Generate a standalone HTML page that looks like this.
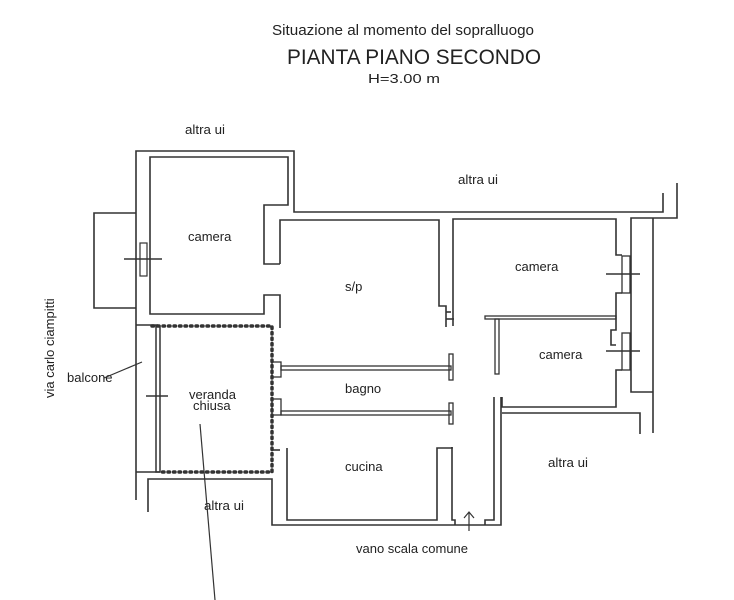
<!DOCTYPE html>
<html><head><meta charset="utf-8"><style>
html,body{margin:0;padding:0;background:#fff}
svg{display:block}
text{font-family:"Liberation Sans",sans-serif;fill:#222}
.w{fill:none;stroke:#333;stroke-width:1.6}
</style></head><body>
<svg width="734" height="600" viewBox="0 0 734 600" xmlns="http://www.w3.org/2000/svg">
<text x="272" y="35" font-size="15" textLength="262" lengthAdjust="spacingAndGlyphs">Situazione al momento del sopralluogo</text>
<text x="287" y="64" font-size="21" textLength="254" lengthAdjust="spacingAndGlyphs">PIANTA PIANO SECONDO</text>
<text x="368" y="83" font-size="13" textLength="72" lengthAdjust="spacingAndGlyphs">H=3.00 m</text>
<text x="185" y="134" font-size="13" textLength="40" lengthAdjust="spacingAndGlyphs">altra ui</text>
<text x="458" y="184" font-size="13" textLength="40" lengthAdjust="spacingAndGlyphs">altra ui</text>
<text x="548" y="467" font-size="13" textLength="40" lengthAdjust="spacingAndGlyphs">altra ui</text>
<text x="204" y="510" font-size="13" textLength="40" lengthAdjust="spacingAndGlyphs">altra ui</text>
<text x="188" y="241" font-size="13">camera</text>
<text x="345" y="291" font-size="13">s/p</text>
<text x="515" y="271" font-size="13">camera</text>
<text x="539" y="359" font-size="13">camera</text>
<text x="345" y="393" font-size="13">bagno</text>
<text x="345" y="471" font-size="13">cucina</text>
<text x="189" y="399" font-size="13">veranda</text>
<text x="193" y="410" font-size="13">chiusa</text>
<text x="67" y="382" font-size="13">balcone</text>
<text x="356" y="553" font-size="13">vano scala comune</text>
<text transform="translate(54,398) rotate(-90)" font-size="13">via carlo ciampitti</text>

<polyline class="w" points="136,325 136,151 294,151 294,212 663,212 663,193"/>
<polyline class="w" points="677,183 677,218 631,218 631,392 653,392"/>
<line class="w" x1="653" y1="218" x2="653" y2="433"/>
<polyline class="w" points="136,213 94,213 94,308 136,308"/>
<polyline class="w" points="280,264 264,264 264,205 288,205 288,157 150,157 150,314 264,314 264,295 280,295 280,328"/>
<rect x="140" y="243" width="7" height="33" fill="none" stroke="#333" stroke-width="1.2"/>
<line class="w" x1="124" y1="259" x2="162" y2="259"/>
<polyline class="w" points="136,325 136,500"/>
<line class="w" x1="136" y1="325" x2="158" y2="325"/>
<line class="w" x1="136" y1="472" x2="160" y2="472"/>
<rect x="156" y="326" width="4" height="146" fill="none" stroke="#333" stroke-width="1.5"/>
<line class="w" x1="146" y1="396" x2="168" y2="396"/>
<line x1="104" y1="378" x2="142" y2="362" stroke="#333" stroke-width="1.2"/>
<g fill="none" stroke="#333" stroke-width="3.5" stroke-dasharray="1.5 4" stroke-linecap="round">
<polyline points="152,326 272,326 272,472 160,472"/>
</g>
<line x1="200" y1="424" x2="215" y2="600" stroke="#333" stroke-width="1.2"/>
<polyline class="w" points="148,512 148,479 272,479 272,525 501,525 501,397"/>
<polyline class="w" points="287,448 287,520 437,520 437,448 452,448 452,447"/>
<polyline class="w" points="280,450 272,450"/>
<polyline class="w" points="280,264 280,220 439,220 439,306 446,306 446,327"/>
<polyline class="w" points="446,312 451,312"/>
<rect x="272" y="362" width="9" height="15" fill="none" stroke="#333" stroke-width="1.3"/>
<rect x="281" y="366" width="170" height="4" fill="none" stroke="#333" stroke-width="1.3"/>
<rect x="449" y="354" width="4" height="26" fill="none" stroke="#333" stroke-width="1.3"/>
<rect x="272" y="399" width="9" height="16" fill="none" stroke="#333" stroke-width="1.3"/>
<rect x="281" y="411" width="170" height="4" fill="none" stroke="#333" stroke-width="1.3"/>
<rect x="449" y="403" width="4" height="21" fill="none" stroke="#333" stroke-width="1.3"/>
<polyline class="w" points="452,447 452,520 455,520 455,525"/>
<polyline class="w" points="494,397 494,520 485,520 485,525"/>
<line x1="469" y1="531" x2="469" y2="513" stroke="#333" stroke-width="1.2"/>
<polyline points="464,518 469,512 474,518" fill="none" stroke="#333" stroke-width="1.2"/>
<polyline class="w" points="453,326 453,219 616,219 616,255 622,255"/>
<rect x="622" y="256" width="8" height="37" fill="none" stroke="#333" stroke-width="1.3"/>
<polyline class="w" points="622,293 616,293 616,330 611,330 611,345 616,345"/>
<polyline class="w" points="446,319 454,319"/>
<rect x="485" y="316" width="131" height="3" fill="none" stroke="#333" stroke-width="1.3"/>
<rect x="495" y="319" width="4" height="55" fill="none" stroke="#333" stroke-width="1.3"/>
<rect x="622" y="333" width="8" height="37" fill="none" stroke="#333" stroke-width="1.3"/>
<polyline class="w" points="622,370 616,370 616,407 502,407 502,397"/>
<line class="w" x1="606" y1="274" x2="640" y2="274"/>
<line class="w" x1="606" y1="351" x2="640" y2="351"/>
<polyline class="w" points="502,413 640,413 640,434"/>
</svg>
</body></html>
